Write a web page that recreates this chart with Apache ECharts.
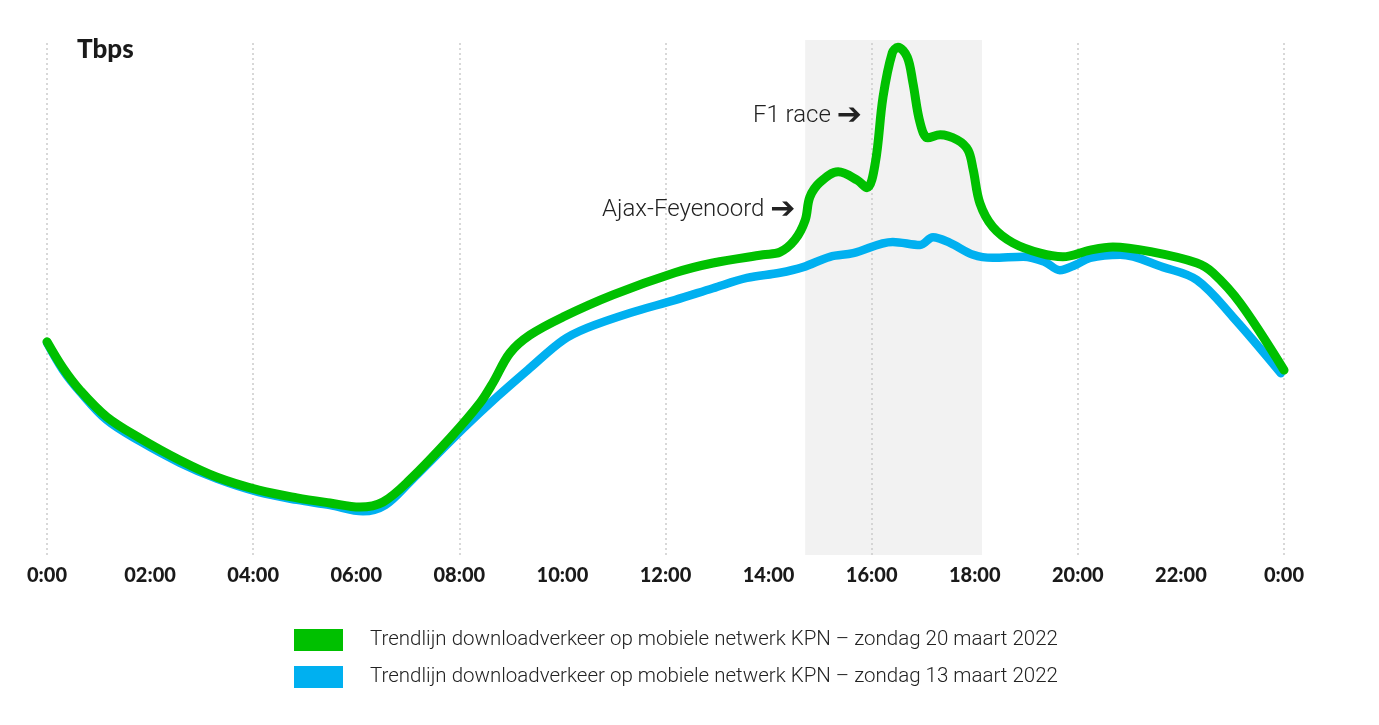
<!DOCTYPE html>
<html>
<head>
<meta charset="utf-8">
<title>Trendlijn downloadverkeer KPN</title>
<script src="https://cdn.jsdelivr.net/npm/echarts@6/dist/echarts.min.js"></script>
<style>
    html, body { margin: 0; padding: 0; background: #fff; }
    #chart { width: 1379px; height: 725px; }
</style>
</head>
<body>
<div id="chart"></div>
<script>
    // uur van de dag, verkeer (relatieve schaal, Tbps)
    var hours20 = [0, 0.31, 0.64, 1.16, 1.80, 2.58, 3.30, 4.11, 4.85, 5.49, 6.07, 6.52, 7.04, 7.82, 8.40, 8.65, 8.98, 9.37,
        10.01, 10.98, 12.18, 12.92, 13.89, 14.22, 14.51, 14.71, 14.80, 15.00, 15.35, 15.72, 15.91, 16.07, 16.22, 16.40,
        16.51, 16.69, 16.80, 16.94, 17.09, 17.33, 17.66, 17.87, 17.97, 18.10, 18.35, 18.74, 19.27, 19.71, 20.24, 20.68,
        21.46, 22.31, 22.62, 23.15, 24];
    var traffic20 = [41.4, 36.3, 32.0, 26.8, 22.7, 18.4, 15.1, 12.6, 11.1, 10.1, 9.3, 10.3, 14.6, 22.7, 29.5, 33.4, 39.2, 42.7,
        46.2, 50.5, 54.8, 56.7, 58.3, 58.8, 61.2, 65.0, 69.5, 72.4, 74.4, 72.8, 71.3, 76.1, 88.9, 97.5,
        98.6, 96.7, 91.7, 83.9, 81.0, 81.6, 80.6, 78.6, 74.8, 68.3, 63.7, 60.6, 58.6, 57.9, 59.2, 59.8,
        58.8, 56.7, 54.8, 48.9, 35.9];

    var hours13 = [0, 0.31, 0.64, 1.16, 1.80, 2.58, 3.30, 4.11, 4.85, 5.49, 6.13, 6.56, 7.04, 8.07, 8.73, 9.37, 10.01, 10.48,
        11.31, 12.18, 12.92, 13.58, 14.22, 14.67, 15.19, 15.64, 16.41, 16.94, 17.19, 17.52, 17.97, 18.35, 18.94, 19.36,
        19.65, 19.95, 20.24, 20.82, 21.65, 22.31, 23.01, 23.94];
    var traffic13 = [41.2, 35.9, 31.7, 26.2, 22.1, 17.9, 14.8, 12.2, 10.7, 9.7, 8.5, 9.7, 14.2, 24.5, 30.7, 36.3, 41.7, 44.1,
        47.0, 49.5, 51.8, 53.8, 54.8, 55.9, 57.9, 58.6, 60.8, 60.2, 61.7, 60.6, 58.3, 57.7, 57.9, 56.9,
        55.3, 56.3, 57.7, 58.3, 55.9, 53.4, 46.2, 35.3];

    var tickLabels = ['0:00', '02:00', '04:00', '06:00', '08:00', '10:00', '12:00', '14:00', '16:00', '18:00', '20:00', '22:00', '0:00'];
    var gridHours = [0, 4, 8, 12, 16, 20, 24];
    var highlight = [14.71, 18.14];

    var name20 = 'Trendlijn downloadverkeer op mobiele netwerk KPN \u2013 zondag 20 maart 2022';
    var name13 = 'Trendlijn downloadverkeer op mobiele netwerk KPN \u2013 zondag 13 maart 2022';

    function pairs(xs, ys) {
        return xs.map(function (x, i) { return [x, ys[i]]; });
    }

    var myChart = echarts.init(document.getElementById('chart'));
    var textFont = 'Roboto, "Noto Sans", sans-serif';
    var boldFont = 'Lato, "Noto Sans", sans-serif';

    var option = {
        animation: false,
        title: {
            text: 'Tbps',
            left: 77,
            top: 37,
            padding: 0,
            textStyle: { fontFamily: boldFont, fontWeight: 900, fontSize: 26, color: '#1a1a1a' }
        },
        legend: {
            orient: 'vertical',
            left: 294,
            top: 629,
            padding: 0,
            itemWidth: 49,
            itemHeight: 22,
            itemGap: 15,
            icon: 'rect',
            data: [name20, name13],
            textStyle: { fontFamily: textFont, fontWeight: 300, fontSize: 20.5, color: '#222', padding: [0, 0, 0, 22] }
        },
        grid: { left: 47, right: 95, top: 40, bottom: 170 },
        xAxis: {
            type: 'value',
            min: 0,
            max: 24,
            interval: 2,
            axisLine: { show: false },
            axisTick: { show: false },
            splitLine: { show: false },
            axisLabel: {
                margin: 11,
                fontFamily: boldFont,
                fontWeight: 900,
                fontSize: 20,
                color: '#1a1a1a',
                formatter: function (v) { return tickLabels[Math.round(v / 2)]; }
            }
        },
        yAxis: {
            type: 'value',
            min: 0,
            max: 100,
            show: false
        },
        series: [
            {
                // grijze band + stippellijnen, onder de trendlijnen
                name: 'achtergrond',
                type: 'line',
                data: [],
                silent: true,
                z: 1,
                markArea: {
                    silent: true,
                    z: 1,
                    itemStyle: { color: '#f2f2f2' },
                    data: [[{ xAxis: highlight[0] }, { xAxis: highlight[1] }]]
                },
                markLine: {
                    silent: true,
                    z: 1,
                    symbol: 'none',
                    label: { show: false },
                    lineStyle: { color: '#cccccc', type: [2, 3], width: 1.5 },
                    data: gridHours.map(function (h) { return { xAxis: h }; })
                }
            },
            {
                name: name13,
                type: 'line',
                smooth: 0.35,
                symbol: 'none',
                color: '#00b0f0',
                lineStyle: { width: 8.5, color: '#00b0f0', cap: 'round', join: 'round' },
                data: pairs(hours13, traffic13),
                z: 3
            },
            {
                name: name20,
                type: 'line',
                smooth: 0.35,
                symbol: 'none',
                color: '#00c000',
                lineStyle: { width: 9, color: '#00c000', cap: 'round', join: 'round' },
                data: pairs(hours20, traffic20),
                markPoint: {
                    silent: true,
                    symbol: 'circle',
                    symbolSize: 0,
                    label: {
                        show: true,
                        position: 'left',
                        distance: 0,
                        fontFamily: textFont,
                        fontWeight: 300,
                        fontSize: 24,
                        color: '#222',
                        rich: {
                            arr: { fontFamily: '"DejaVu Sans", sans-serif', fontWeight: 'bold', fontSize: 30, color: '#222' }
                        }
                    },
                    data: [
                        { coord: [15.81, 85.2], value: 'F1 race', label: { formatter: 'F1 race {arr|\u2794}' } },
                        { coord: [14.52, 67.0], value: 'Ajax', label: { formatter: 'Ajax-Feyenoord {arr|\u2794}' } }
                    ]
                },
                z: 4
            }
        ]
    };
    myChart.setOption(option);
</script>
</body>
</html>
